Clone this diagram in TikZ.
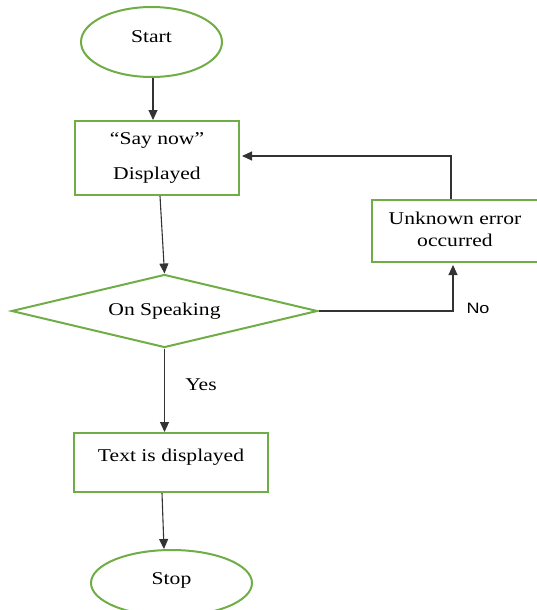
\documentclass[tikz,border=0pt]{standalone}
\usepackage{fontspec}
\setmainfont[FakeStretch=1.2]{Liberation Serif}
\newfontfamily\labsans[FakeStretch=1.2]{Liberation Sans}
\usetikzlibrary{shapes.geometric,arrows.meta,calc}
\definecolor{ogreen}{HTML}{70AD47}
\begin{document}
\begin{tikzpicture}[x=1pt,y=-1pt,
  every node/.style={font=\fontsize{18}{22}\selectfont, inner sep=0pt},
  gbox/.style={draw=ogreen, line width=2pt, rectangle, align=center},
  gell/.style={draw=ogreen, line width=2pt, ellipse},
  gdia/.style={draw=ogreen, line width=2pt, diamond},
  conn/.style={draw=black!80, line width=1.1pt},
  arr/.style={conn, -{Triangle[length=10pt,width=9pt]}}]
\useasboundingbox (0,0) rectangle (536,610);
\node[gell, minimum width=141pt, minimum height=70pt, text height=12pt, text depth=10pt] (start) at (151.5,42) {Start};
\node[gbox, minimum width=164pt, minimum height=74pt, font=\fontsize{18}{35}\selectfont] (b1) at (157,158) {“Say now”\\Displayed};
\node[gbox, minimum width=166pt, minimum height=62pt, text depth=4pt] (u) at (455,231) {Unknown error\\occurred};
\node[gdia, minimum width=306pt, minimum height=73pt, aspect=4.2] (dia) at (164.5,311) {On Speaking};
\node[gbox, minimum width=194pt, minimum height=59pt, text height=13pt, text depth=16pt] (t) at (171,462.5) {Text is displayed};
\node[gell, minimum width=161pt, minimum height=66pt, text height=12pt, text depth=10pt] (stop) at (171.5,583) {Stop};
\node[font=\labsans\fontsize{15}{18}\selectfont] (no) at (478,308) {No};
\node (yes) at (201,385) {Yes};
\draw[arr] ([xshift=1.5pt]start.south) -- ([xshift=1.5pt]start.south |- b1.north);
\draw[arr] ([xshift=3pt]b1.south) -- (dia.north);
\draw[arr] (dia.south) -- (dia.south |- t.north);
\draw[arr] ([xshift=-9pt]t.south) -- ([xshift=-7.5pt]stop.north);
\draw[arr] (dia.east) -| ([xshift=-2pt,yshift=-2pt]u.south);
\draw[arr] ([xshift=-4pt]u.north) |- ([xshift=2pt,yshift=2pt]b1.east);
\end{tikzpicture}
\end{document}
